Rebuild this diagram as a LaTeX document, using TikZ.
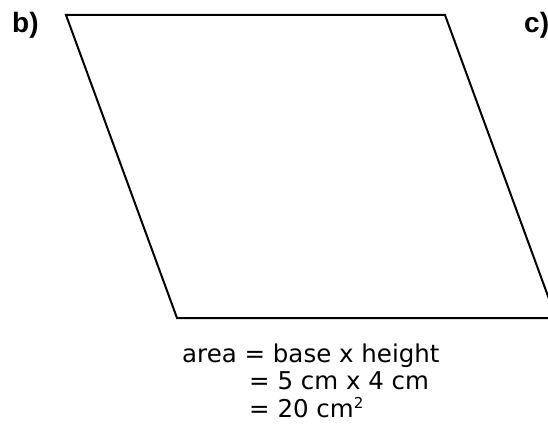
\documentclass[tikz,border=0pt]{standalone}
\usepackage{fontspec}
\setmainfont{DejaVu Sans}
\newfontfamily\labelfont{Liberation Sans}
\begin{document}
\begin{tikzpicture}[x=1pt,y=-1pt,
  outline/.style={draw=black,line width=2pt,line join=miter},
  partlabel/.style={font=\labelfont\bfseries\fontsize{28}{32}\selectfont,anchor=base west,inner sep=0pt},
  calc/.style={font=\fontsize{24.5}{28}\selectfont,anchor=base west,inner sep=0pt}]
\useasboundingbox (0,0) rectangle (548,444);
\begin{scope}
\clip (0,0) rectangle (548,444);
\coordinate (tl) at (66,15);
\coordinate (tr) at (445,15);
\coordinate (br) at (556,318);
\coordinate (bl) at (177,318);
\draw[outline] (tl) -- (tr) -- (br) -- (bl) -- cycle;
\node[partlabel] (c) at (524,33) {c)};
\end{scope}
\node[partlabel] (b) at (12,33) {b)};
\node[calc] (l1) at (182,362) {area = base x height};
\node[calc] (l2) at (249,389) {= 5 cm x 4 cm};
\node[calc] (l3) at (249,417) {= 20 cm\raisebox{9pt}{\fontsize{15}{15}\selectfont 2}};
\end{tikzpicture}
\end{document}
